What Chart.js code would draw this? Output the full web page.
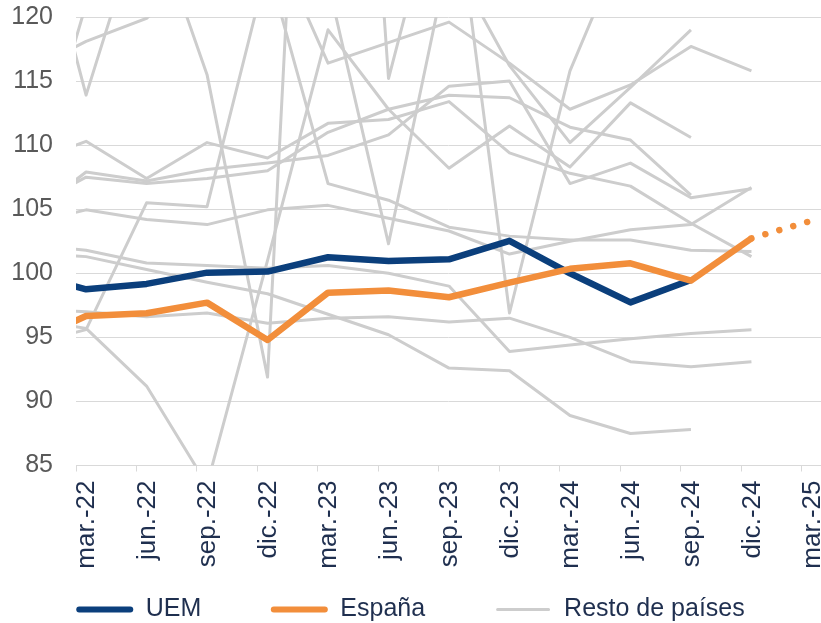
<!DOCTYPE html>
<html>
<head>
<meta charset="utf-8">
<script src="https://cdn.jsdelivr.net/npm/chart.js@4.4.1/dist/chart.umd.min.js"></script>
<style>
  html, body { margin: 0; padding: 0; background: #ffffff; }
  #c { display: block; }
</style>
</head>
<body>
<canvas id="c" width="821" height="623"></canvas>
<script>
// ---------- DATA ----------
// Quarterly observations (first one, dic.-21, lies just left of the plotted window)
const quarterLabels = ['dic.-21','mar.-22','jun.-22','sep.-22','dic.-22','mar.-23','jun.-23','sep.-23','dic.-23','mar.-24','jun.-24','sep.-24','dic.-24','mar.-25'];
// Axis tick labels
const axisLabels = ['mar.-22','jun.-22','sep.-22','dic.-22','mar.-23','jun.-23','sep.-23','dic.-23','mar.-24','jun.-24','sep.-24','dic.-24','mar.-25'];
const yTicks = [85, 90, 95, 100, 105, 110, 115, 120];

const uem            = [100.0, 98.75, 99.17, 100.05, 100.13, 101.25, 100.96, 101.09, 102.53, 100.0, 97.73, 99.48];
const espana         = [94.5, 96.67, 96.88, 97.71, 94.79, 98.49, 98.65, 98.13, 99.27, 100.35, 100.78, 99.43, 102.73];
const espanaPrevision = [null, null, null, null, null, null, null, null, null, null, null, null, 102.73, 104.11];

const resto01 = [131.9, 113.9, 129.0, 115.5, 91.9, 183.0, 115.2, 133.3, 96.9, 115.8, 127.0];
const resto02 = [115.7, 118.1, 119.9, 124.0, 127.0, 116.4, 118.0, 119.6, 116.4, 112.8, 114.7, 117.7, 115.8];
const resto03 = [105.0, 121.0, 125.0, 128.0, 126.0, 122.7, 102.3, 124.8, 116.2, 110.2, 114.5, 119.0];
const resto04 = [96.5, 95.7, 91.2, 83.5, 101.0, 119.0, 112.8, 108.2, 111.5, 108.3, 113.3, 110.6];
const resto05 = [108.5, 110.3, 107.4, 110.2, 109.0, 111.7, 112.0, 113.4, 109.4, 107.8, 106.8, 103.9, 101.3];
const resto06 = [104.3, 107.9, 107.2, 108.1, 108.6, 109.2, 110.8, 114.6, 115.0, 107.0, 108.6, 105.9, 106.6];
const resto07 = [105.0, 107.5, 107.0, 107.4, 108.0, 111.0, 112.8, 113.9, 113.7, 111.4, 110.4, 106.1];
const resto08 = [94.4, 95.6, 105.5, 105.2, 124.0, 107.0, 105.7, 103.6, 102.9, 102.6, 102.6, 101.8, 101.7];
const resto09 = [103.8, 104.95, 104.2, 103.8, 104.95, 105.3, 104.3, 103.3, 101.5, 102.5, 103.4, 103.8, 106.7];
const resto10 = [102.2, 101.8, 100.8, 100.6, 100.4, 100.6, 100.0, 99.0, 93.9, 94.4, 94.9, 95.3, 95.6];
const resto11 = [101.6, 101.3, 100.3, 99.3, 98.4, 96.8, 95.2, 92.6, 92.4, 88.9, 87.5, 87.8];
const resto12 = [97.2, 97.0, 96.6, 96.9, 96.1, 96.5, 96.6, 96.2, 96.5, 95.0, 93.1, 92.7, 93.1];
const restoSeries = [resto01, resto02, resto03, resto04, resto05, resto06, resto07, resto08, resto09, resto10, resto11, resto12];

const legendTexts = ['UEM', 'España', 'Resto de países'];

// ---------- STYLE ----------
const NAVY_TEXT = '#1f2f4f';
const GREY_TEXT = '#595959';
const GRID = '#d9d9d9';
const C_UEM = '#0b3f7c';
const C_ESP = '#f28e3b';
const C_REST = '#cdcdcd';
const FONT = "'Liberation Sans', Arial, sans-serif";

// month offset of each quarter relative to mar.-22 (3 months per quarter)
const monthOf = i => (i - 1) * 3;
const toPoints = arr => arr.map((v, i) => (v === null ? null : { x: monthOf(i), y: v })).filter(p => p !== null);

// tick marks sit between month slots; labels are centred in the month slot
const tickValues = axisLabels.map((_, i) => i * 3 - 0.5);

const datasets = [];
datasets.push({ label: 'España', data: toPoints(espana), borderColor: C_ESP, borderWidth: 6.5, order: 0,
  borderJoinStyle: 'round', borderCapStyle: 'butt' });
datasets.push({ label: 'España previsión', data: toPoints(espanaPrevision), borderColor: C_ESP, borderWidth: 6.5, order: 1,
  borderDash: [0.01, 14.5], borderCapStyle: 'round' });
datasets.push({ label: 'UEM', data: toPoints(uem), borderColor: C_UEM, borderWidth: 6.5, order: 2,
  borderJoinStyle: 'round' });
restoSeries.forEach((s, k) => {
  datasets.push({ label: 'Resto ' + (k + 1), data: toPoints(s), borderColor: C_REST, borderWidth: 3, order: 3 + k,
    borderJoinStyle: 'round' });
});
datasets.forEach(d => { d.pointRadius = 0; d.tension = 0; d.fill = false; d.clip = 0; d.spanGaps = false; });

// legend: three real entries, separated by invisible spacer entries
const legendColors = [C_UEM, C_ESP, C_REST];
const legendItems = [];
legendTexts.forEach((t, i) => {
  if (i > 0) {
    legendItems.push({ text: '', fillStyle: 'rgba(0,0,0,0)', strokeStyle: 'rgba(0,0,0,0)', lineWidth: 0,
      fontColor: 'rgba(0,0,0,0)', hidden: false });
  }
  const grey = i === 2;
  legendItems.push({ text: t, fillStyle: legendColors[i], strokeStyle: grey ? '#ffffff' : legendColors[i],
    lineWidth: grey ? 3 : 0, borderRadius: 3, fontColor: NAVY_TEXT, hidden: false });
});

new Chart(document.getElementById('c'), {
  type: 'line',
  data: { datasets },
  options: {
    responsive: false,
    animation: false,
    devicePixelRatio: 1,
    events: [],
    layout: { padding: { top: 17, right: 0, bottom: 0, left: 0 } },
    scales: {
      x: {
        type: 'linear',
        min: -0.5,
        max: 36.45,
        afterBuildTicks: s => { s.ticks = tickValues.map(v => ({ value: v })); },
        afterFit: s => { s.height = 131.5; s.paddingLeft = 0; s.paddingRight = 0; },
        ticks: {
          autoSkip: false, minRotation: 90, maxRotation: 90,
          labelOffset: 11, padding: 9,
          color: NAVY_TEXT, font: { family: FONT, size: 26 },
          callback: v => axisLabels[Math.round((v + 0.5) / 3)]
        },
        grid: { drawOnChartArea: false, drawTicks: true, tickLength: 6, color: GRID, lineWidth: 1 },
        border: { display: true, color: GRID, width: 1 }
      },
      y: {
        min: yTicks[0],
        max: yTicks[yTicks.length - 1],
        afterFit: s => { s.width = 76; s.paddingTop = 0; s.paddingBottom = 0; },
        afterBuildTicks: s => { s.ticks = yTicks.map(v => ({ value: v })); },
        ticks: { padding: 23, color: GREY_TEXT, font: { family: FONT, size: 25 } },
        grid: { color: GRID, lineWidth: 1, drawTicks: false },
        border: { display: false }
      }
    },
    plugins: {
      tooltip: { enabled: false },
      legend: {
        position: 'bottom',
        align: 'center',
        maxHeight: 26,
        labels: {
          boxWidth: 57, boxHeight: 6, padding: 0,
          color: NAVY_TEXT, font: { family: FONT, size: 25 },
          generateLabels: () => legendItems.map((it, i) => Object.assign({ index: i }, it))
        }
      }
    }
  }
});
</script>
</body>
</html>
